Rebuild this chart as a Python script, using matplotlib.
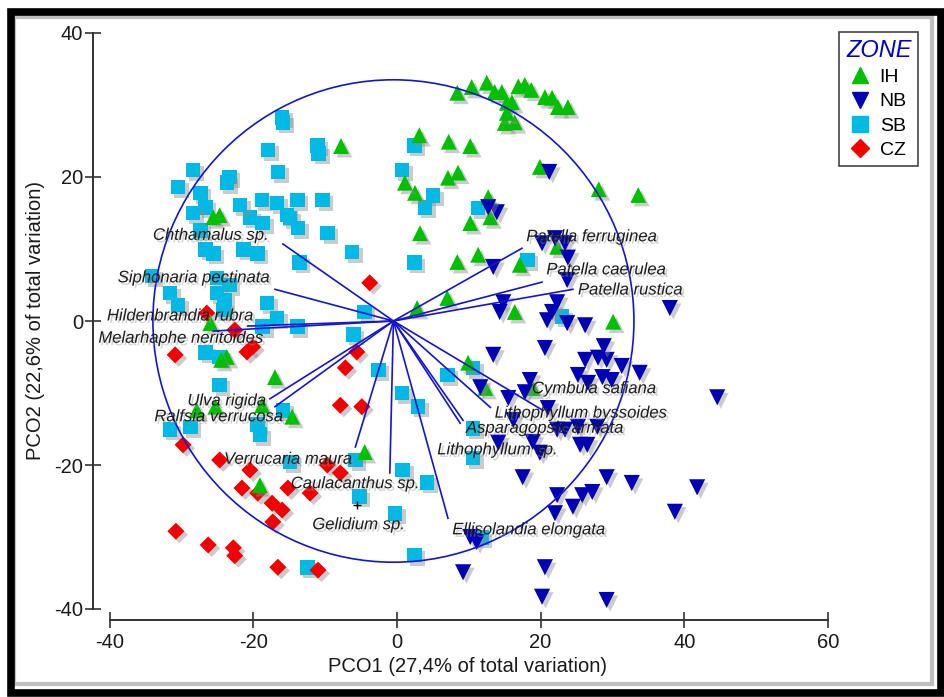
import numpy as np
import matplotlib
matplotlib.use('Agg')
import matplotlib.pyplot as plt
import matplotlib.patheffects as pe
from matplotlib.patches import Circle, Rectangle
from matplotlib.lines import Line2D

plt.rcParams['font.family'] = ['Liberation Sans', 'DejaVu Sans']
plt.rcParams['axes.unicode_minus'] = False

# ---- sample scores (PCO1, PCO2) ----
ih_x = [8.4, 10.4, 12.5, 13.6, 14.6, 15.3, 16.0, 15.0, 16.4, 15.3, 16.9, 17.8, 18.7, 20.6, 21.6,
        22.4, 23.8, 3.1, 7.2, 10.2, 19.9, 28.1, 33.6, 7.1, 8.5, 2.5, 1.1, 12.7, 13.0, 10.2,
        3.2, 8.4, 11.3, 17.1, 22.3, 7.0, 2.8, 16.4, 30.1, 9.9, 12.3, 18.9, -7.8, -25.6, -24.7,
        -26.0, -23.7, -24.5, -17.0, -18.8, -25.3, -27.9, -14.6, -4.5, -19.1]
ih_y = [31.7, 32.5, 33.1, 31.8, 31.8, 30.3, 30.4, 27.5, 27.6, 28.9, 32.6, 32.8, 32.1, 31.1, 31.0,
        29.7, 29.7, 25.8, 24.9, 24.3, 21.4, 18.3, 17.5, 19.9, 20.6, 17.8, 19.2, 17.2, 14.4, 13.6,
        12.2, 8.2, 9.2, 7.8, 10.3, 3.2, 1.8, 1.25, -0.1, -5.8, -9.3, -9.3, 24.3, 14.4, 14.7,
        -0.3, -5.0, -5.4, -7.8, -11.7, -11.9, -12.4, -13.3, -18.2, -22.8]

nb_x = [21.2, 13.9, 12.7, 20.2, 22.0, 23.4, 23.8, 13.4, 23.7, 14.8, 14.3, 22.3, 21.6, 38.0, 20.9,
        23.7, 26.2, 13.4, 20.6, 11.6, 26.2, 28.0, 29.2, 25.2, 28.6, 29.9, 33.8, 18.5, 17.8, 15.5,
        21.0, 16.2, 22.3, 25.2, 27.9, 14.1, 18.9, 25.5, 26.5, 19.9, 17.5, 29.2, 32.7, 41.8, 44.6,
        22.3, 25.8, 27.2, 24.5, 22.0, 38.7, 10.2, 11.1, 9.2, 20.6, 20.2, 29.2, 23.4, 28.8, 31.3,
        26.6]
nb_y = [20.7, 15.1, 15.8, 10.8, 11.5, 10.8, 8.8, 7.5, 5.7, 2.6, 1.25, 2.6, 1.25, 1.8, 0.1,
        -0.3, -0.6, -4.7, -3.75, -9.2, -5.4, -5.1, -5.4, -7.5, -7.8, -8.2, -7.2, -8.2, -9.9, -10.7,
        -12.1, -13.75, -15.1, -14.7, -14.7, -16.9, -16.8, -17.2, -17.2, -18.3, -21.7, -21.7, -22.5, -23.1, -10.6,
        -24.2, -24.2, -23.75, -25.8, -26.7, -26.5, -30.0, -30.7, -34.9, -34.2, -38.3, -38.75, -15.1, -3.5, -6.25,
        -8.6]

sb_x = [-16.0, -15.9, -18.0, -11.1, -10.9, -16.6, -28.4, -30.5, -27.4, -23.3, -23.7, -18.8, -16.7, -13.9, -10.4,
        -15.3, -26.7, -28.4, -27.4, -26.7, -25.6, -21.4, -19.4, -20.5, -18.7, -14.9, -13.8, -9.7, -6.3, -13.6,
        -31.6, -30.5, -34.1, -25.1, -23.3, -25.1, -24.0, -24.2, -18.1, -16.7, -18.7, -13.9, -4.5, -6.1, -26.7,
        -24.7, -24.7, -28.8, -19.4, -19.1, -15.9, -2.6, 0.7, 2.9, 7.0, 10.6, 10.6, 10.6, 4.2, 0.8,
        -5.8, -14.9, -5.2, -0.3, 11.8, 2.4, -12.5, 2.4, 0.7, 5.0, 3.9, 11.3, 18.2, 23.0, 2.4,
        -31.6, -21.9]
sb_y = [28.3, 27.6, 23.75, 24.4, 23.3, 20.7, 21.0, 18.6, 17.8, 20.0, 19.2, 16.8, 16.4, 16.8, 16.8,
        14.7, 15.8, 15.0, 12.6, 9.9, 9.4, 9.9, 9.4, 14.4, 13.6, 14.3, 12.9, 12.2, 9.6, 8.1,
        3.9, 2.2, 6.25, 6.0, 5.0, 3.9, 2.9, 1.5, 2.5, 0.4, -0.8, -0.8, 1.25, -1.9, -4.4,
        -5.0, -8.9, -14.7, -14.4, -15.8, -12.4, -6.8, -10.0, -11.9, -7.5, -6.5, -14.9, -19.0, -22.4, -20.7,
        -19.3, -19.6, -24.4, -26.7, -30.1, -32.5, -34.2, 24.4, 21.0, 17.4, 15.8, 15.7, 8.5, 0.6, 8.1,
        -15.1, 16.1]

cz_x = [-3.8, -30.9, -26.5, -22.6, -20.1, -20.9, -5.6, -7.2, -7.9, -4.9, -29.8, -24.7, -20.5, -21.6, -19.4,
        -15.2, -12.1, -17.4, -16.0, -17.3, -9.7, -7.9, -30.8, -26.3, -22.8, -22.6, -16.6, -11.0]
cz_y = [5.3, -4.7, 1.1, -1.25, -3.6, -4.3, -4.3, -6.5, -11.7, -11.9, -17.2, -19.3, -20.7, -23.2, -23.9,
        -23.2, -23.9, -25.3, -26.25, -27.9, -20.0, -21.1, -29.2, -31.1, -31.5, -32.6, -34.2, -34.6]

# ---- species vectors (tip coordinates) ----
species = ['Chthamalus sp.', 'Siphonaria pectinata', 'Hildenbrandia rubra', 'Melarhaphe neritoides',
           'Patella ferruginea', 'Patella caerulea', 'Patella rustica', 'Cymbula safiana',
           'Lithophyllum byssoides', 'Asparagopsis armata', 'Lithophyllum sp.', 'Ellisolandia elongata',
           'Ulva rigida', 'Ralfsia verrucosa', 'Verrucaria maura', 'Caulacanthus sp.']
vec_x = [-15.9, -17.0, -20.8, -25.6, 17.4, 20.2, 24.5, 20.3, 13.0, 9.2, 8.8, 7.1, -17.7, -17.0, -5.8, -1.0]
vec_y = [10.7, 4.4, -0.7, -1.4, 10.1, 5.4, 4.4, -12.4, -12.0, -13.8, -14.2, -27.4, -10.8, -11.9, -17.5, -21.1]
gelidium = (-5.6, -25.6)

# label anchors (left edge, vertical centre)
label_pos = [(-34.0, 11.9), (-38.9, 6.0), (-40.4, 0.7), (-41.6, -2.4),
             (18.0, 11.7), (20.8, 7.1), (25.2, 4.3), (18.8, -9.4),
             (13.6, -12.8), (9.6, -14.9), (5.6, -17.9), (7.7, -29.0),
             (-29.2, -11.1), (-33.8, -13.3), (-24.1, -19.2), (-14.8, -22.6)]
gel_label = (-11.8, -28.3)

origin = (-0.5, 0.0)
radius = 33.5

W, H = 944, 697
fig = plt.figure(figsize=(W / 100, H / 100), dpi=100)

# axes placed so that 1 unit ~ 7.2 px
ax = fig.add_axes([88.3 / W, (H - 630.6) / H, 840.0 / W, 612.0 / H])
ax.set_xlim(-43, 74)
ax.set_ylim(-43, 42)

shadow = [pe.withSimplePatchShadow(offset=(2.5, -2.5), shadow_rgbFace='0.55', alpha=0.45)]
tshadow = [pe.withSimplePatchShadow(offset=(1.8, -1.8), shadow_rgbFace='0.6', alpha=0.45)]

sb = ax.scatter(sb_x, sb_y, marker='s', s=110, c='#00BAE6', linewidths=0, zorder=3, path_effects=shadow)
cz = ax.scatter(cz_x, cz_y, marker='D', s=75, c='#F20000', linewidths=0, zorder=3, path_effects=shadow)
ih = ax.scatter(ih_x, ih_y, marker='^', s=130, c='#00C000', linewidths=0, zorder=3, path_effects=shadow)
nb = ax.scatter(nb_x, nb_y, marker='v', s=135, c='#0000B4', linewidths=0, zorder=3, path_effects=shadow)

circ = Circle(origin, radius, fill=False, edgecolor='#1414D2', linewidth=1.2, zorder=4)
ax.add_patch(circ)

for i in range(len(species)):
    ax.plot([origin[0], vec_x[i]], [origin[1], vec_y[i]], color='#1414D2', lw=1.2, zorder=4)
    ax.text(label_pos[i][0], label_pos[i][1], species[i], fontsize=12, style='italic',
            color='#1c1c1c', ha='left', va='center', zorder=6, path_effects=tshadow)

ax.plot(gelidium[0], gelidium[1], marker='+', color='black', ms=6, mew=1, zorder=5)
ax.text(gel_label[0], gel_label[1], 'Gelidium sp.', fontsize=12, style='italic',
        color='#1c1c1c', ha='left', va='center', zorder=6, path_effects=tshadow)

# range-frame axes
for s in ['top', 'right']:
    ax.spines[s].set_visible(False)
ax.spines['left'].set_position(('data', -42.3))
ax.spines['left'].set_bounds(-40, 40)
ax.spines['bottom'].set_position(('data', -41.5))
ax.spines['bottom'].set_bounds(-40, 60)
for s in ['left', 'bottom']:
    ax.spines[s].set_color('#333333')
    ax.spines[s].set_linewidth(1.4)
ax.set_xticks([-40, -20, 0, 20, 40, 60])
ax.set_yticks([-40, -20, 0, 20, 40])
ax.tick_params(axis='both', direction='inout', length=11, width=1.2, color='#333333',
               labelsize=14.5, labelcolor='#1a1a1a')
ax.tick_params(axis='x', pad=4)
ax.tick_params(axis='y', pad=2)
ax.patch.set_alpha(0)

fig.text(467 / W, 1 - 666 / H, 'PCO1 (27,4% of total variation)', fontsize=14.5,
         ha='center', va='center', color='#1a1a1a')
fig.text(36 / W, 1 - 321 / H, 'PCO2 (22,6% of total variation)', fontsize=14.5,
         ha='center', va='center', rotation=90, color='#1a1a1a')

handles = [Line2D([], [], ls='', marker='^', ms=12, color='#00C000'),
           Line2D([], [], ls='', marker='v', ms=12, color='#0000B4'),
           Line2D([], [], ls='', marker='s', ms=11, color='#00BAE6'),
           Line2D([], [], ls='', marker='D', ms=9, color='#F20000')]
leg = fig.legend(handles, ['IH', 'NB', 'SB', 'CZ'], title='ZONE', loc='upper right',
                 bbox_to_anchor=(928 / W, 1 - 22 / H), fontsize=14, frameon=True,
                 fancybox=False, edgecolor='#444444', framealpha=1, handlelength=1.0,
                 handletextpad=0.5, borderpad=0.35, labelspacing=0.35)
leg.get_title().set_fontsize(17)
leg.get_title().set_style('italic')
leg.get_title().set_color('#0000CC')
leg.get_frame().set_linewidth(1.2)

# black picture frame
fig.patches.append(Rectangle((14 / W, 13 / H), (W - 26) / W, (H - 30) / H, transform=fig.transFigure,
                             fill=False, edgecolor='0.75', linewidth=3))
fig.patches.append(Rectangle((10.5 / W, 4.5 / H), (W - 14) / W, (H - 16) / H, transform=fig.transFigure,
                             fill=False, edgecolor='black', linewidth=5.5))

fig.savefig('out.png', dpi=100)
